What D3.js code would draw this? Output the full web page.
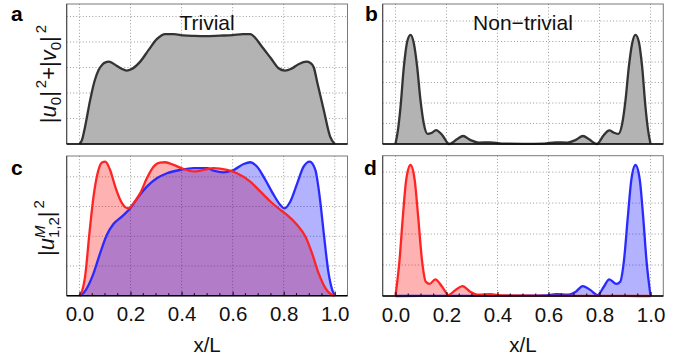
<!DOCTYPE html>
<html><head><meta charset="utf-8">
<script src="https://cdn.jsdelivr.net/npm/d3@7"></script>
<style>body{margin:0;background:#fff}svg{display:block}text{font-family:"Liberation Sans",Arial,Helvetica,sans-serif}</style>
</head><body><svg id="c" width="696" height="360"></svg>
<script>
// ---- data ----
const xTicks = [0.0, 0.2, 0.4, 0.6, 0.8, 1.0];
const xTickLabels = ["0.0", "0.2", "0.4", "0.6", "0.8", "1.0"];
const panelLetters = ["a", "b", "c", "d"];
const panelTitles = ["Trivial", "Non\u2212trivial"];

const aX = [0,0.01,0.022,0.042,0.06,0.075,0.09,0.102,0.114,0.13,0.147,0.165,0.185,0.205,0.238,0.271,0.303,0.336,0.369,0.408,0.45,0.493,0.55,0.6,0.64,0.669,0.69,0.71,0.75,0.78,0.805,0.83,0.86,0.889,0.905,0.918,0.931,0.957,0.982,1.0];
const aY = [0,0.16,0.68,1.73,2.5,2.9,3.12,3.2,3.23,3.17,3.06,2.95,2.88,2.94,3.23,3.69,4.11,4.31,4.31,4.26,4.24,4.23,4.25,4.27,4.31,4.31,4.15,3.88,3.36,2.97,2.88,2.95,3.14,3.23,3.18,3.0,2.44,1.33,0.29,0];

const bX = [0,0.01,0.02,0.033,0.046,0.059,0.072,0.085,0.098,0.111,0.126,0.143,0.159,0.183,0.211,0.241,0.265,0.293,0.326,0.372,0.417,0.5,0.583,0.628,0.674,0.707,0.735,0.759,0.789,0.817,0.838,0.857,0.874,0.889,0.902,0.915,0.928,0.941,0.954,0.967,0.98,0.99,1.0];
const bY = [0,0.7,1.82,3.77,4.99,5.32,4.91,3.77,2.15,1.0,0.49,0.55,0.68,0.44,0.0,0.23,0.39,0.2,0.07,0.08,0.02,0.01,0.02,0.08,0.07,0.2,0.39,0.23,0.0,0.44,0.66,0.55,0.49,1.0,2.15,3.77,4.91,5.32,4.99,3.77,1.82,0.7,0];

const cXred = [0,0.01,0.022,0.039,0.055,0.071,0.088,0.101,0.12,0.14,0.16,0.179,0.192,0.212,0.238,0.264,0.29,0.316,0.336,0.369,0.408,0.447,0.486,0.525,0.578,0.617,0.669,0.709,0.748,0.787,0.813,0.853,0.885,0.911,0.937,0.964,0.985,1.0];
const cYred = [0,0.15,0.64,2.10,3.33,4.12,4.48,4.51,4.23,3.67,3.22,2.98,2.94,3.11,3.45,3.95,4.34,4.48,4.49,4.40,4.26,4.18,4.23,4.29,4.23,4.12,3.84,3.50,3.17,2.89,2.72,2.38,1.99,1.43,0.75,0.25,0.05,0];
const cXblue = [0,0.015,0.029,0.055,0.081,0.107,0.133,0.166,0.199,0.231,0.264,0.303,0.343,0.395,0.447,0.50,0.525,0.565,0.604,0.643,0.669,0.696,0.728,0.761,0.787,0.803,0.826,0.853,0.878,0.902,0.924,0.941,0.957,0.976,0.99,1.0];
const cYblue = [0,0.08,0.25,0.75,1.43,2.04,2.41,2.66,2.94,3.33,3.67,3.95,4.12,4.23,4.29,4.29,4.21,4.15,4.23,4.43,4.49,4.34,3.90,3.39,3.05,2.94,3.17,3.78,4.34,4.51,4.23,3.33,2.10,0.75,0.2,0];

const dXred = [0,0.016,0.029,0.042,0.059,0.0755,0.089,0.104,0.119,0.134,0.156,0.183,0.208,0.235,0.263,0.293,0.326,0.372,0.417,0.5,0.6,0.7,0.8,0.9,1.0];
const dYred = [0,1.16,2.56,3.74,4.23,3.74,2.56,1.16,0.46,0.39,0.54,0.30,0.03,0.19,0.32,0.14,0.04,0.06,0.02,0.01,0.005,0.003,0.002,0.001,0];
const dXblue = [0,0.1,0.2,0.3,0.4,0.5,0.583,0.632,0.674,0.707,0.734,0.765,0.792,0.817,0.838,0.866,0.881,0.896,0.911,0.9245,0.941,0.958,0.971,0.984,1.0];
const dYblue = [0,0.001,0.002,0.003,0.005,0.01,0.02,0.06,0.04,0.14,0.32,0.19,0.03,0.30,0.54,0.39,0.46,1.16,2.56,3.74,4.23,3.74,2.56,1.16,0];

// ---- layout ----
const svg = d3.select("#c");
const zip = (xs, ys) => xs.map((x, i) => ({x, y: ys[i]}));

const panels = [
  {L:66.7, R:347.5, T:4, B:144, ymax:5.49, grid:[1,2,3,4,5], ticks:false,
   series:[{d:zip(aX,aY), fill:"#b3b3b3", op:1, stroke:"#333"}], title:panelTitles[0], letter:panelLetters[0], lx:11, ly:21},
  {L:382.7, R:663.3, T:4, B:144, ymax:6.83, grid:[1,2,3,4,5,6], ticks:false,
   series:[{d:zip(bX,bY), fill:"#b3b3b3", op:1, stroke:"#333"}], title:panelTitles[1], letter:panelLetters[1], lx:365, ly:21},
  {L:66.7, R:347.5, T:156, B:295.7, ymax:4.70, grid:[1,2,3,4], ticks:true,
   series:[{d:zip(cXred,cYred), fill:"#ff0000", op:0.3, stroke:"#ff2424"},{d:zip(cXblue,cYblue), fill:"#0000ff", op:0.3, stroke:"#2a2aff"}], letter:panelLetters[2], lx:11, ly:175},
  {L:382.7, R:663.3, T:155.7, B:296, ymax:4.53, grid:[1,2,3,4], ticks:true,
   series:[{d:zip(dXred,dYred), fill:"#ff0000", op:0.3, stroke:"#ff2424"},{d:zip(dXblue,dYblue), fill:"#0000ff", op:0.3, stroke:"#2a2aff"}], letter:panelLetters[3], lx:364, ly:175}
];

panels.forEach((p, pi) => {
  const x = d3.scaleLinear().domain([-0.05, 1.05]).range([p.L, p.R]);
  const y = d3.scaleLinear().domain([0, p.ymax]).range([p.B, p.T]);
  const g = svg.append("g");
  // grid
  g.selectAll(".vg").data(xTicks).join("line")
    .attr("x1", d => x(d)).attr("x2", d => x(d)).attr("y1", p.T).attr("y2", p.B)
    .attr("stroke", "#9a9a9a").attr("stroke-width", 1).attr("stroke-dasharray", "1,2.2");
  g.selectAll(".hg").data(p.grid).join("line")
    .attr("x1", p.L).attr("x2", p.R).attr("y1", d => y(d)).attr("y2", d => y(d))
    .attr("stroke", "#9a9a9a").attr("stroke-width", 1).attr("stroke-dasharray", "1,2.2");
  const area = d3.area().x(d => x(d.x)).y0(y(0)).y1(d => y(d.y)).curve(d3.curveMonotoneX);
  const line = d3.line().x(d => x(d.x)).y(d => y(d.y)).curve(d3.curveMonotoneX);
  p.series.forEach(s => {
    g.append("path").attr("d", area(s.d)).attr("fill", s.fill).attr("fill-opacity", s.op);
  });
  p.series.slice().reverse().forEach(s => {
    g.append("path").attr("d", line(s.d)).attr("fill", "none").attr("stroke", s.stroke)
      .attr("stroke-width", 2.3).attr("stroke-linejoin", "round");
  });
  // frame
  g.append("rect").attr("x", p.L).attr("y", p.T).attr("width", p.R - p.L).attr("height", p.B - p.T)
    .attr("fill", "none").attr("stroke", "#7a7a7a").attr("stroke-width", 1);
  g.append("line").attr("x1", p.L).attr("x2", p.L).attr("y1", p.T).attr("y2", p.B)
    .attr("stroke", "#444").attr("stroke-width", 1);
  g.append("line").attr("x1", p.L).attr("x2", p.R).attr("y1", p.B).attr("y2", p.B)
    .attr("stroke", "#000").attr("stroke-width", 1.5);
  if (p.ticks) {
    const ax = d3.axisBottom(x).tickValues(xTicks).tickFormat((d, i) => xTickLabels[i])
      .tickSizeInner(-4).tickSizeOuter(0).tickPadding(11);
    const axg = g.append("g").attr("transform", `translate(0,${p.B})`).call(ax);
    axg.select(".domain").remove();
    axg.selectAll(".tick line").attr("stroke", "#000");
    axg.selectAll(".tick text").attr("font-size", 20.5).attr("fill", "#111")
      .attr("font-family", "Liberation Sans, Arial, sans-serif");
    const minor = d3.range(0, 1.0001, 0.05).filter(v => Math.abs(v * 5 - Math.round(v * 5)) > 1e-6);
    g.selectAll(".mt").data(minor).join("line")
      .attr("x1", d => x(d)).attr("x2", d => x(d)).attr("y1", p.B).attr("y2", p.B - 2.5)
      .attr("stroke", "#000").attr("stroke-width", 1);
    g.append("text").attr("x", (x(0) + x(1)) / 2).attr("y", 351.7).attr("text-anchor", "middle")
      .attr("font-size", 20.5).attr("fill", "#111").text("x/L");
  }
  if (p.title) {
    g.append("text").attr("x", (x(0) + x(1)) / 2).attr("y", 29.5).attr("text-anchor", "middle")
      .attr("font-size", 21).attr("fill", "#111").text(p.title);
  }
  g.append("text").attr("x", p.lx).attr("y", p.ly).attr("font-size", 21).attr("font-weight", "bold")
    .attr("fill", "#000").text(p.letter);
});

// y labels
function ylab(cx, cy, build) {
  const t = svg.append("text").attr("transform", `translate(${cx},${cy}) rotate(-90)`)
    .attr("text-anchor", "middle").attr("font-size", 22).attr("fill", "#111");
  build(t);
}
ylab(56, 74, t => {
  t.append("tspan").text("|");
  t.append("tspan").attr("font-style", "italic").text("u");
  t.append("tspan").attr("font-size", 15).attr("dy", 5).text("0");
  t.append("tspan").attr("dy", -5).text("|");
  t.append("tspan").attr("font-size", 15).attr("dy", -10).attr("dx", 3).text("2");
  t.append("tspan").attr("dy", 10).text("+|");
  t.append("tspan").attr("font-style", "italic").text("v");
  t.append("tspan").attr("font-size", 15).attr("dy", 5).text("0");
  t.append("tspan").attr("dy", -5).text("|");
  t.append("tspan").attr("font-size", 15).attr("dy", -10).attr("dx", 3).text("2");
});
ylab(54, 228, t => {
  t.append("tspan").text("|");
  t.append("tspan").attr("font-style", "italic").text("u");
  const m = t.append("tspan").attr("font-size", 15).attr("font-style", "italic").attr("dy", -9).text("M");
  const mw = m.node().getComputedTextLength();
  t.append("tspan").attr("font-size", 15).attr("dy", 14).attr("dx", -mw).text("1,2");
  t.append("tspan").attr("dy", -5).text("|");
  t.append("tspan").attr("font-size", 15).attr("dy", -10).attr("dx", 3).text("2");
});
</script></body></html>
